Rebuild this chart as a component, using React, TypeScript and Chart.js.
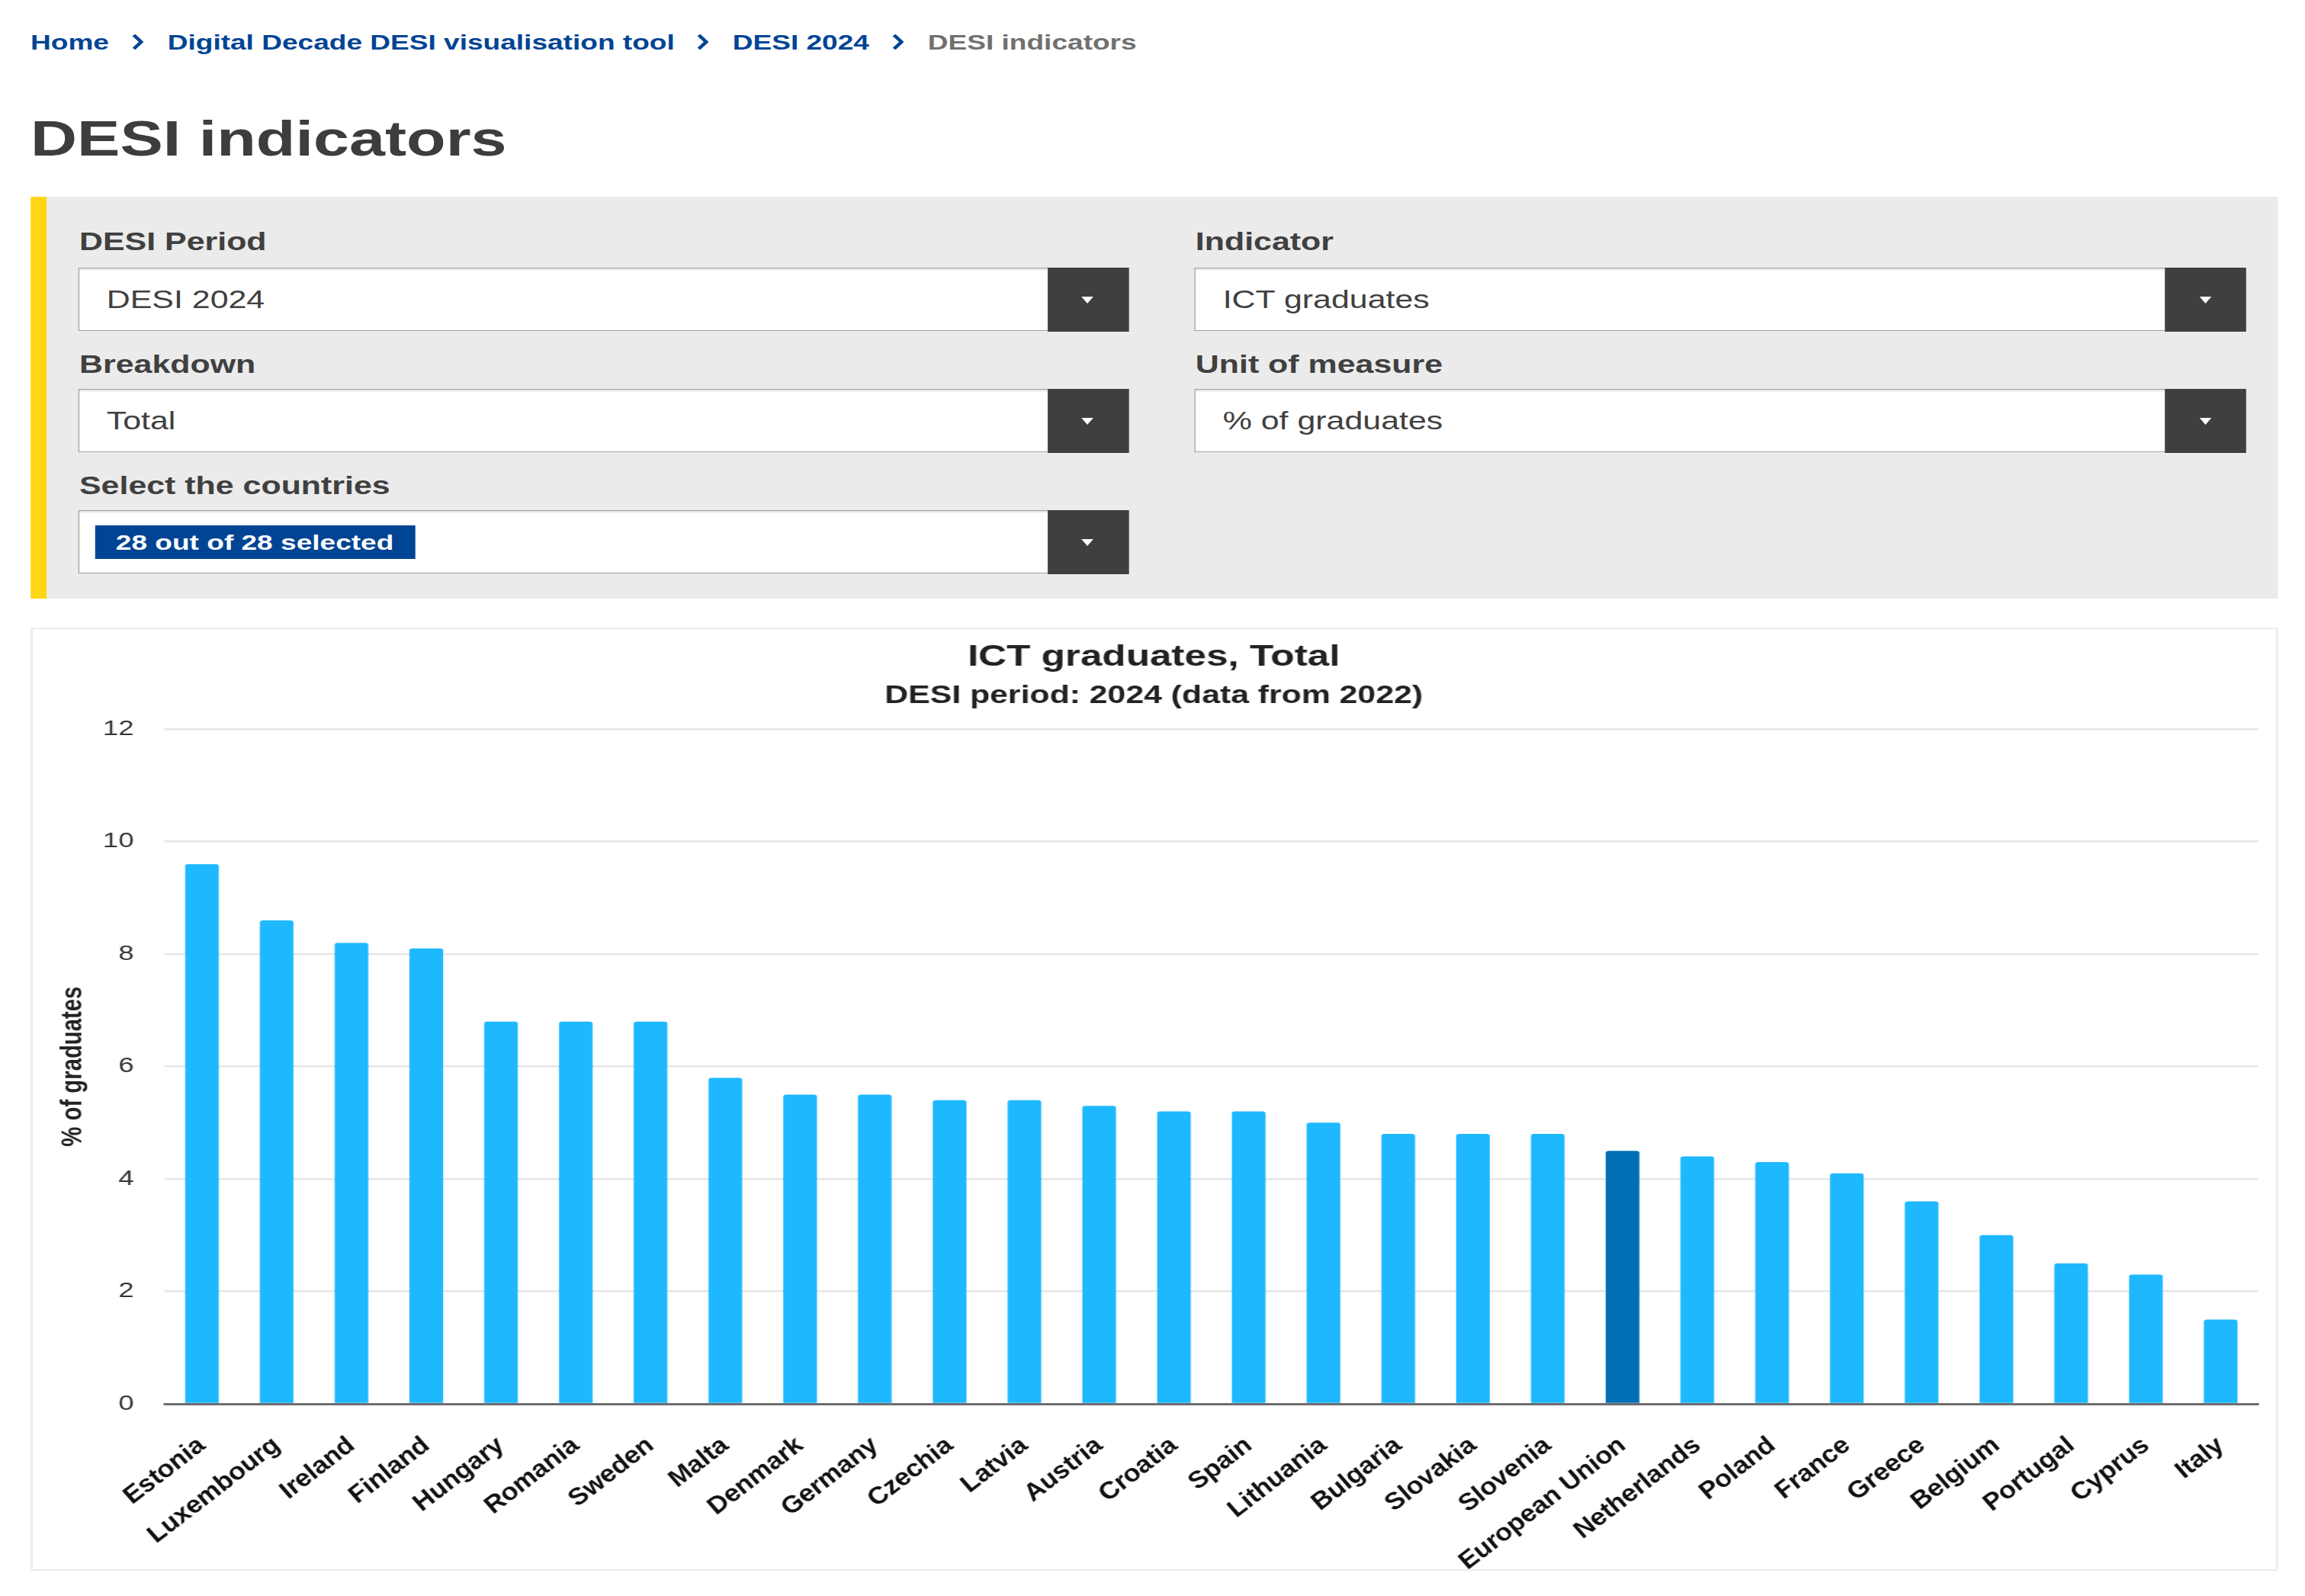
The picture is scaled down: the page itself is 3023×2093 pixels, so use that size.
import React, { useEffect, useRef } from "react";
import { Chart, registerables } from "chart.js";

Chart.register(...registerables);

// ---------- data ----------
const CATEGORIES = [
  "Estonia", "Luxembourg", "Ireland", "Finland", "Hungary", "Romania", "Sweden",
  "Malta", "Denmark", "Germany", "Czechia", "Latvia", "Austria", "Croatia", "Spain",
  "Lithuania", "Bulgaria", "Slovakia", "Slovenia", "European Union", "Netherlands",
  "Poland", "France", "Greece", "Belgium", "Portugal", "Cyprus", "Italy",
];
const VALUES = [
  9.6, 8.6, 8.2, 8.1, 6.8, 6.8, 6.8,
  5.8, 5.5, 5.5, 5.4, 5.4, 5.3, 5.2, 5.2,
  5.0, 4.8, 4.8, 4.8, 4.5, 4.4,
  4.3, 4.1, 3.6, 3.0, 2.5, 2.3, 1.5,
];
const HIGHLIGHT = "European Union";
const Y_MIN = 0;
const Y_MAX = 12;
const Y_STEP = 2;

const CHART_TITLE = "ICT graduates, Total";
const CHART_SUBTITLE = "DESI period: 2024 (data from 2022)";
const Y_TITLE = "% of graduates";

const BREADCRUMB = ["Home", "Digital Decade DESI visualisation tool", "DESI 2024", "DESI indicators"];

// ---------- styling ----------
const FONT = '"Liberation Sans", Arial, Helvetica, sans-serif';
const SX = 1.3; // horizontal stretch of the reference capture
const PAGE_W = 3023 / SX;
const BAR_COLOR = "#1eb8ff";
const EU_COLOR = "#006fb5";
const EC_BLUE = "#004494";
const DARK = "#404040";

Chart.defaults.font.family = FONT;

function Chevron({ left }: { left: number }) {
  return (
    <svg width={12} height={22} viewBox="0 0 12 22" style={{ position: "absolute", left, top: 44 }}>
      <polyline points="2,2 9.5,11 2,20" fill="none" stroke={EC_BLUE} strokeWidth={3.8} />
    </svg>
  );
}

function SelectBox({ left, top, width, text, tag }: { left: number; top: number; width: number; text?: string; tag?: string }) {
  return (
    <div
      style={{
        position: "absolute",
        left,
        top,
        width,
        height: 83,
        boxSizing: "border-box",
        background: "#fff",
        border: "1.5px solid #a3a3a3",
        boxShadow: "inset 0 2px 2px rgba(0,0,0,0.12)",
      }}
    >
      {text && (
        <div
          style={{
            position: "absolute",
            left: 28,
            top: 0,
            bottom: 0,
            display: "flex",
            alignItems: "center",
            fontSize: 33,
            lineHeight: 1,
            color: DARK,
          }}
        >
          {text}
        </div>
      )}
      {tag && (
        <div
          style={{
            position: "absolute",
            left: 16,
            top: 18.5,
            width: 323,
            height: 44,
            background: EC_BLUE,
            color: "#fff",
            fontWeight: "bold",
            fontSize: 28.5,
            lineHeight: "44px",
            textAlign: "center",
          }}
        >
          {tag}
        </div>
      )}
      <div
        style={{
          position: "absolute",
          right: -1.5,
          top: -1.5,
          bottom: -1.5,
          width: 81.5,
          background: "#3f3f3f",
        }}
      >
        <div
          style={{
            position: "absolute",
            left: "50%",
            top: "50%",
            marginLeft: -6.5,
            marginTop: -4,
            width: 0,
            height: 0,
            borderLeft: "6.5px solid transparent",
            borderRight: "6.5px solid transparent",
            borderTop: "9px solid #fff",
          }}
        />
      </div>
    </div>
  );
}

function Label({ left, top, text }: { left: number; top: number; text: string }) {
  return (
    <div style={{ position: "absolute", left, top, fontSize: 33, fontWeight: "bold", lineHeight: 1, color: DARK, whiteSpace: "nowrap" }}>
      {text}
    </div>
  );
}

function BarChart() {
  const ref = useRef<HTMLCanvasElement | null>(null);
  useEffect(() => {
    if (!ref.current) return;
    const chart = new Chart(ref.current, {
      type: "bar",
      data: {
        labels: CATEGORIES,
        datasets: [
          {
            label: Y_TITLE,
            data: VALUES,
            backgroundColor: CATEGORIES.map((c) => (c === HIGHLIGHT ? EU_COLOR : BAR_COLOR)),
            barPercentage: 0.45,
            categoryPercentage: 1,
            borderRadius: 3,
            borderSkipped: "start",
          },
        ],
      },
      options: {
        animation: false,
        responsive: false,
        maintainAspectRatio: false,
        devicePixelRatio: 1,
        layout: { padding: { top: 0, right: 19, bottom: 0, left: 19 } },
        plugins: {
          legend: { display: false },
          tooltip: { enabled: false },
          title: {
            display: true,
            text: CHART_TITLE,
            color: "#222",
            font: { size: 39.4, weight: "bold", family: FONT },
            padding: { top: 16, bottom: 0 },
          },
          subtitle: {
            display: true,
            text: CHART_SUBTITLE,
            color: "#222",
            font: { size: 32.9, weight: "bold", family: FONT },
            padding: { top: 7, bottom: 23.5 },
          },
        },
        scales: {
          x: {
            grid: { display: true, color: "rgba(0,0,0,0)", drawTicks: false },
            border: { display: true, color: "#6e6e6e", width: 3 },
            ticks: {
              autoSkip: false,
              maxRotation: 45,
              minRotation: 45,
              padding: 38,
              color: "#111",
              font: { size: 29.5, weight: "bold", style: "italic", family: FONT },
            },
            afterFit: (s: any) => {
              s.height = 219;
              s.paddingLeft = 0;
              s.paddingRight = 0;
            },
          },
          y: {
            min: Y_MIN,
            max: Y_MAX,
            ticks: { stepSize: Y_STEP, padding: 31, color: "#333", font: { size: 28, family: FONT } },
            grid: { color: "#e6e6e6", lineWidth: 2.5, drawTicks: false },
            border: { display: false },
            title: {
              display: true,
              text: Y_TITLE,
              color: "#222",
              font: { size: 29.3, weight: "bold", family: FONT },
              padding: { top: 6, bottom: 0 },
            },
            afterFit: (s: any) => {
              s.width = 116;
            },
          },
        },
      } as any,
    });
    return () => chart.destroy();
  }, []);
  return (
    <canvas
      ref={ref}
      width={2266}
      height={1237}
      style={{ position: "absolute", left: 31, top: 823, width: 2266, height: 1237 }}
    />
  );
}

export default function App() {
  const crumbLefts = [30.8, 169, 739, 936];
  const chevLefts = [133, 703, 900];
  return (
    <div
      style={{
        position: "fixed",
        left: 0,
        top: 0,
        width: PAGE_W,
        height: 2093,
        transform: `scaleX(${SX})`,
        transformOrigin: "0 0",
        background: "#fff",
        overflow: "hidden",
        fontFamily: FONT,
      }}
    >
      {/* breadcrumb */}
      {BREADCRUMB.map((t, i) => (
        <div
          key={t}
          style={{
            position: "absolute",
            left: crumbLefts[i],
            top: 41.3,
            fontSize: 28.5,
            lineHeight: 1,
            fontWeight: "bold",
            whiteSpace: "nowrap",
            color: i === BREADCRUMB.length - 1 ? "#707070" : EC_BLUE,
          }}
        >
          {t}
        </div>
      ))}
      {chevLefts.map((l) => (
        <Chevron key={l} left={l} />
      ))}

      {/* page title */}
      <div
        style={{
          position: "absolute",
          left: 30.8,
          top: 148.5,
          fontSize: 65,
          lineHeight: 1,
          fontWeight: "bold",
          color: "#3d3d3d",
          whiteSpace: "nowrap",
        }}
      >
        DESI indicators
      </div>

      {/* filter panel */}
      <div style={{ position: "absolute", left: 30.8, top: 258, width: 2267.7, height: 527, background: "#ebebeb" }}>
        <div style={{ position: "absolute", left: 0, top: 0, width: 16, height: "100%", background: "#ffd617" }} />
      </div>
      <Label left={80} top={299.7} text="DESI Period" />
      <SelectBox left={78.5} top={351} width={1059.5} text="DESI 2024" />
      <Label left={80} top={460.7} text="Breakdown" />
      <SelectBox left={78.5} top={510} width={1059.5} text="Total" />
      <Label left={80} top={619.7} text="Select the countries" />
      <SelectBox left={78.5} top={669} width={1059.5} tag="28 out of 28 selected" />

      <Label left={1206} top={299.7} text="Indicator" />
      <SelectBox left={1204.6} top={351} width={1060.8} text="ICT graduates" />
      <Label left={1206} top={460.7} text="Unit of measure" />
      <SelectBox left={1204.6} top={510} width={1060.8} text="% of graduates" />

      {/* chart card */}
      <div
        style={{
          position: "absolute",
          left: 30.8,
          top: 823,
          width: 2266.9,
          height: 1237,
          boxSizing: "border-box",
          border: "2px solid #ececec",
        }}
      />
      <BarChart />
    </div>
  );
}
